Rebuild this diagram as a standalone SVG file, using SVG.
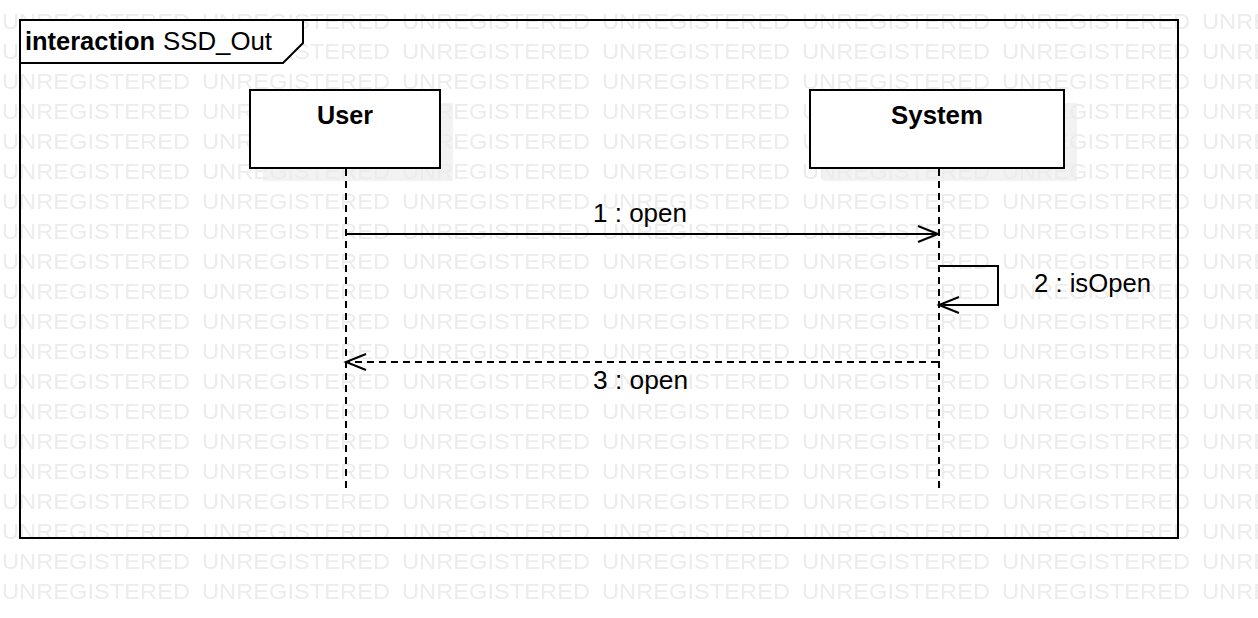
<svg xmlns="http://www.w3.org/2000/svg" width="1258" height="618" viewBox="0 0 1258 618">
<style>
.wm{font-family:"Liberation Sans",Arial,sans-serif;font-size:22px;fill:#ececec}
.box{fill:#fff;stroke:#000;stroke-width:2}
.shadow{fill:#f2f2f2}
.bold{font-family:"Liberation Sans",Arial,sans-serif;font-size:25px;font-weight:bold;fill:#000}
.lbl{font-family:"Liberation Sans",Arial,sans-serif;font-size:25px;fill:#000}
.life{stroke:#000;stroke-width:2;stroke-dasharray:7 5;fill:none}
.msg{stroke:#000;stroke-width:2;fill:none}
.dash{stroke-dasharray:7 5}
</style>
<defs>
<pattern id="wmp" x="0" y="0" width="200" height="30" patternUnits="userSpaceOnUse">
<text class="wm" x="2" y="29" textLength="188" lengthAdjust="spacingAndGlyphs">UNREGISTERED</text>
</pattern>
<marker id="open" markerWidth="24" markerHeight="20" refX="21" refY="9" orient="auto" markerUnits="userSpaceOnUse">
<path d="M1,1 L21,9 L1,17" fill="none" stroke="#000" stroke-width="2"/>
</marker>
</defs>
<rect width="1258" height="618" fill="#fff"/>
<rect class="shadow" x="263" y="103" width="190" height="78"/>
<rect class="shadow" x="823" y="103" width="254" height="78"/>
<rect width="1258" height="602" fill="url(#wmp)"/>
<g id="frame">
<rect x="20" y="20" width="1158" height="518" fill="none" stroke="#000" stroke-width="2"/>
<path d="M20,20 L303,20 L303,43 L283,63 L20,63 Z" fill="#fff" stroke="#000" stroke-width="2"/>
<text class="bold" x="25" y="50" textLength="130" lengthAdjust="spacingAndGlyphs">interaction</text>
<text class="lbl" x="163" y="50" textLength="109" lengthAdjust="spacingAndGlyphs">SSD_Out</text>
</g>
<g id="user">
<rect class="box" x="250" y="90" width="190" height="78"/>
<text class="bold" x="317" y="124" textLength="56" lengthAdjust="spacingAndGlyphs">User</text>
</g>
<g id="system">
<rect class="box" x="810" y="90" width="254" height="78"/>
<text class="bold" x="891" y="124" textLength="92" lengthAdjust="spacingAndGlyphs">System</text>
</g>
<g id="connectors">
<line class="life" x1="346" y1="169" x2="346" y2="488"/>
<line class="life" x1="939" y1="169" x2="939" y2="488"/>
<line class="msg" x1="346" y1="234" x2="938" y2="234" marker-end="url(#open)"/>
<text class="lbl" x="593" y="222" textLength="94" lengthAdjust="spacingAndGlyphs">1 : open</text>
<path class="msg" d="M939,266 L998,266 L998,305 L939,305" marker-end="url(#open)"/>
<text class="lbl" x="1034" y="292" textLength="117" lengthAdjust="spacingAndGlyphs">2 : isOpen</text>
<line class="msg dash" x1="938" y1="362" x2="346" y2="362" marker-end="url(#open)"/>
<text class="lbl" x="593" y="389" textLength="95" lengthAdjust="spacingAndGlyphs">3 : open</text>
</g>
</svg>
